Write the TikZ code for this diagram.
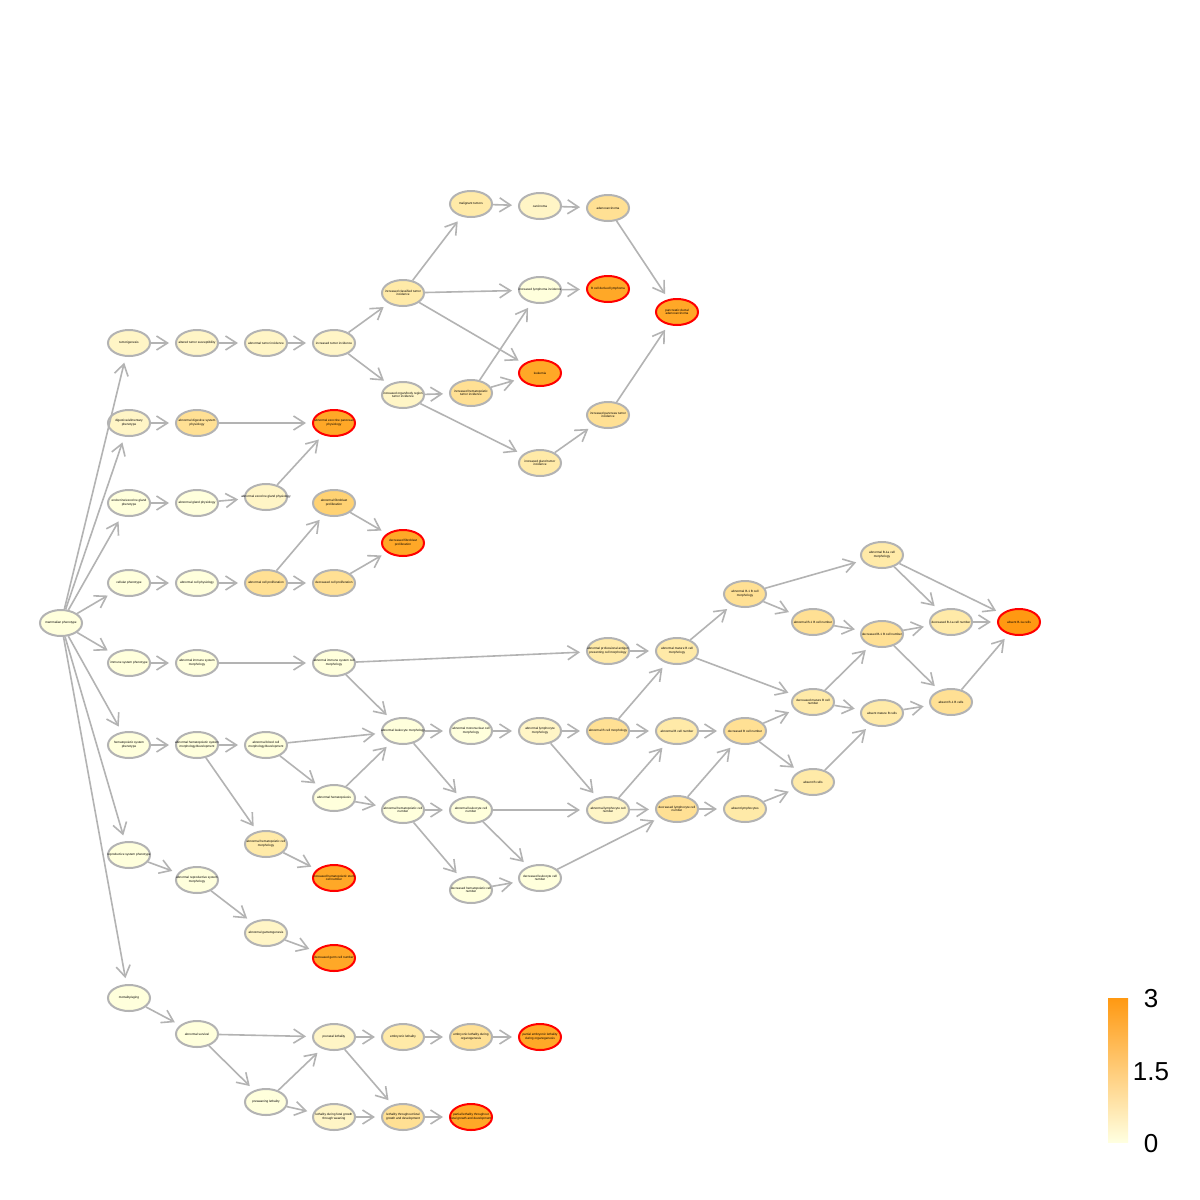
\documentclass[tikz,border=0pt]{standalone}
\usepackage{fontspec}
\setmainfont{Liberation Sans}
\usetikzlibrary{shapes.geometric,arrows.meta}
\definecolor{c0}{HTML}{FFFFDC}
\definecolor{c1}{HTML}{FFF5C6}
\definecolor{c2}{HTML}{FFEAA8}
\definecolor{c3}{HTML}{FFE094}
\definecolor{c4}{HTML}{FFD273}
\definecolor{c5}{HTML}{FFA827}
\definecolor{c6}{HTML}{FF9912}
\definecolor{cmid}{HTML}{FFDB8C}
\definecolor{cbot}{HTML}{FFFFE0}
\definecolor{eg}{RGB}{179,179,179}
\definecolor{hotred}{RGB}{255,0,0}
\begin{document}
\begin{tikzpicture}[x=0.5pt,y=-0.5pt,
 lbl/.style={font=\fontsize{1.55}{1.85}\selectfont, align=center, inner sep=0pt, text=black},
 tn/.style={ellipse, draw=eg, line width=1pt, minimum width=21pt, minimum height=13pt, inner sep=0pt, label={[lbl]center:{#1}}},
 hot/.style={draw=hotred, line width=1pt},
 ed/.style={draw=eg, line width=0.8pt, -{Straight Barb[length=5.5pt,width=7pt,line width=0.8pt]}, shorten >=3pt},
 legtxt/.style={font=\fontsize{13}{15}\selectfont, inner sep=0pt}]
\fill[white] (0,0) rectangle (1200,1200);
\useasboundingbox (0,0) rectangle (1200,1200);

% root
\node[tn={mammalian phenotype}, fill=c0] (m) at (61,623) {};
% column 2
\node[tn={tumorigenesis}, fill=c1] (tum) at (129,343) {};
\node[tn={digestive/alimentary\\phenotype}, fill=c1] (dig) at (129,423) {};
\node[tn={endocrine/exocrine gland\\phenotype}, fill=c0] (endo) at (129,503) {};
\node[tn={cellular phenotype}, fill=c0] (cell) at (129,583) {};
\node[tn={immune system phenotype}, fill=c0] (imm) at (129,663) {};
\node[tn={hematopoietic system\\phenotype}, fill=c0] (hem) at (129,745) {};
\node[tn={reproductive system phenotype}, fill=c0] (repro) at (129,855) {};
\node[tn={mortality/aging}, fill=c0] (mort) at (129,998) {};
% column 3
\node[tn={altered tumor susceptibility}, fill=c1] (alt) at (197,343) {};
\node[tn={abnormal digestive system\\physiology}, fill=c3] (adsp) at (197,423) {};
\node[tn={abnormal gland physiology}, fill=c0] (agp) at (197,503) {};
\node[tn={abnormal cell physiology}, fill=c0] (acp) at (197,583) {};
\node[tn={abnormal immune system\\morphology}, fill=c0] (aism) at (197,663) {};
\node[tn={abnormal hematopoietic system\\morphology/development}, fill=c0] (ahsmd) at (197,745) {};
\node[tn={abnormal reproductive system\\morphology}, fill=c0] (arsm) at (197,880) {};
\node[tn={abnormal survival}, fill=c0] (asurv) at (197,1034) {};
% column 4
\node[tn={abnormal tumor incidence}, fill=c1] (ati) at (266,343) {};
\node[tn={abnormal exocrine gland physiology}, fill=c1] (aegp) at (266,497) {};
\node[tn={abnormal cell proliferation}, fill=c3] (acprol) at (266,583) {};
\node[tn={abnormal blood cell\\morphology/development}, fill=c0] (abcmd) at (266,745) {};
\node[tn={abnormal hematopoietic cell\\morphology}, fill=c2] (ahcm) at (266,844) {};
\node[tn={abnormal gametogenesis}, fill=c1] (agam) at (266,933) {};
\node[tn={preweaning lethality}, fill=c0] (prew) at (266,1102) {};
% column 5
\node[tn={increased tumor incidence}, fill=c1] (iti) at (334,343) {};
\node[tn={abnormal exocrine pancreas\\physiology}, fill=c5, hot] (aepp) at (334,423) {};
\node[tn={abnormal fibroblast\\proliferation}, fill=c4] (afp) at (334,503) {};
\node[tn={decreased cell proliferation}, fill=c3] (dcp) at (334,583) {};
\node[tn={abnormal immune system cell\\morphology}, fill=c0] (aiscm) at (334,663) {};
\node[tn={abnormal hematopoiesis}, fill=c0] (ahema) at (334,798) {};
\node[tn={increased hematopoietic stem\\cell number}, fill=c5, hot] (ihscn) at (334,878) {};
\node[tn={decreased germ cell number}, fill=c5, hot] (gamred) at (334,958) {};
\node[tn={prenatal lethality}, fill=c1] (prenat) at (334,1037) {};
\node[tn={lethality during fetal growth\\through weaning}, fill=c1] (lfgw) at (334,1117) {};
% column 6
\node[tn={increased classified tumor\\incidence}, fill=c2] (icti) at (403,293) {};
\node[tn={increased organ/body region\\tumor incidence}, fill=c1] (iobrti) at (403,395) {};
\node[tn={decreased fibroblast\\proliferation}, fill=c5, hot] (dfp) at (403,543) {};
\node[tn={abnormal leukocyte morphology}, fill=c0] (alm) at (403,731) {};
\node[tn={abnormal hematopoietic cell\\number}, fill=c0] (ahcn) at (403,810) {};
\node[tn={embryonic lethality}, fill=c2] (embl) at (403,1037) {};
\node[tn={lethality throughout fetal\\growth and development}, fill=c3] (ltfgd) at (403,1117) {};
% column 7
\node[tn={malignant tumors}, fill=c2] (malig) at (471,204) {};
\node[tn={increased hematopoietic\\tumor incidence}, fill=c3] (ihti) at (471,393) {};
\node[tn={abnormal mononuclear cell\\morphology}, fill=c0] (amcm) at (471,731) {};
\node[tn={abnormal leukocyte cell\\number}, fill=c0] (alcn) at (471,810) {};
\node[tn={decreased hematopoietic cell\\number}, fill=c0] (dhcn) at (471,890) {};
\node[tn={embryonic lethality during\\organogenesis}, fill=c3] (elo) at (471,1037) {};
\node[tn={partial lethality throughout\\fetal growth and development}, fill=c5, hot] (pltfgd) at (471,1117) {};
% column 8
\node[tn={carcinoma}, fill=c1] (carc) at (540,206) {};
\node[tn={increased lymphoma incidence}, fill=c0] (ili) at (540,290) {};
\node[tn={leukemia}, fill=c5, hot] (leuk) at (540,373) {};
\node[tn={increased gland tumor\\incidence}, fill=c2] (igti) at (540,463) {};
\node[tn={abnormal lymphocyte\\morphology}, fill=c1] (alym) at (540,731) {};
\node[tn={decreased leukocyte cell\\number}, fill=c0] (dlcn) at (540,878) {};
\node[tn={partial embryonic lethality\\during organogenesis}, fill=c5, hot] (pelo) at (540,1037) {};
% column 9
\node[tn={adenocarcinoma}, fill=c3] (adeno) at (608,208) {};
\node[tn={B cell derived lymphoma}, fill=c5, hot] (bcdl) at (608,289) {};
\node[tn={increased pancreas tumor\\incidence}, fill=c3] (ipti) at (608,415) {};
\node[tn={abnormal professional antigen\\presenting cell morphology}, fill=c2] (apapc) at (608,651) {};
\node[tn={abnormal B cell morphology}, fill=c3] (abcm) at (608,731) {};
\node[tn={abnormal lymphocyte cell\\number}, fill=c1] (alycn) at (608,810) {};
% column 10
\node[tn={pancreatic ductal\\adenocarcinoma}, fill=c5, hot] (pdac) at (677,312) {};
\node[tn={abnormal mature B cell\\morphology}, fill=c2] (ambcm) at (677,651) {};
\node[tn={abnormal B cell number}, fill=c2] (abcn) at (677,731) {};
\node[tn={decreased lymphocyte cell\\number}, fill=c3] (dlycn) at (677,809) {};
% column 11
\node[tn={abnormal B-1 B cell\\morphology}, fill=c3] (ab1m) at (745,594) {};
\node[tn={decreased B cell number}, fill=c3] (dbcn) at (745,731) {};
\node[tn={absent lymphocytes}, fill=c2] (alyms) at (745,809) {};
% column 12
\node[tn={abnormal B-1 B cell number}, fill=c3] (ab1n) at (813,622) {};
\node[tn={decreased mature B cell\\number}, fill=c2] (dmbcn) at (813,702) {};
\node[tn={absent B cells}, fill=c2] (absb) at (813,782) {};
% column 13
\node[tn={abnormal B-1a cell\\morphology}, fill=c2] (ab1am) at (882,555) {};
\node[tn={decreased B-1 B cell number}, fill=c3] (db1n) at (882,634) {};
\node[tn={absent mature B cells}, fill=c2] (amb) at (882,713) {};
% column 14
\node[tn={decreased B-1a cell number}, fill=c2] (db1an) at (951,622) {};
\node[tn={absent B-1 B cells}, fill=c3] (ab1b) at (951,702) {};
% column 15
\node[tn={absent B-1a cells}, fill=c6, hot] (ab1a) at (1019,622) {};

\foreach \a/\b in {m/tum,m/dig,m/endo,m/cell,m/imm,m/hem,m/repro,m/mort,
 tum/alt,alt/ati,ati/iti,iti/icti,iti/iobrti,
 dig/adsp,adsp/aepp,endo/agp,agp/aegp,aegp/aepp,
 cell/acp,acp/acprol,acprol/afp,acprol/dcp,afp/dfp,dcp/dfp,
 imm/aism,aism/aiscm,aiscm/apapc,aiscm/alm,
 hem/ahsmd,ahsmd/abcmd,ahsmd/ahcm,ahcm/ihscn,abcmd/alm,abcmd/ahema,ahema/alm,ahema/ahcn,
 repro/arsm,arsm/agam,agam/gamred,
 mort/asurv,asurv/prenat,asurv/prew,prew/prenat,prew/lfgw,prenat/embl,prenat/ltfgd,
 embl/elo,elo/pelo,lfgw/ltfgd,ltfgd/pltfgd,
 icti/malig,icti/ili,icti/leuk,malig/carc,carc/adeno,adeno/pdac,ili/bcdl,
 iobrti/ihti,iobrti/igti,ihti/ili,ihti/leuk,igti/ipti,ipti/pdac,
 alm/amcm,alm/alcn,amcm/alym,alym/abcm,alym/alycn,ahcn/alcn,ahcn/dhcn,
 alcn/alycn,alcn/dlcn,dhcn/dlcn,dlcn/dlycn,
 apapc/ambcm,abcm/ambcm,abcm/abcn,alycn/abcn,alycn/dlycn,abcn/dbcn,dlycn/dbcn,dlycn/alyms,
 dbcn/dmbcn,dbcn/absb,alyms/absb,
 ambcm/ab1m,ambcm/dmbcn,ab1m/ab1am,ab1m/ab1n,ab1n/db1n,dmbcn/db1n,dmbcn/amb,absb/amb,
 ab1am/db1an,ab1am/ab1a,db1n/db1an,db1n/ab1b,amb/ab1b,db1an/ab1a,ab1b/ab1a}
 \draw[ed] (\a) -- (\b);

% legend
\shade[top color=c6, middle color=cmid, bottom color=cbot] (1108,998) rectangle (1128,1142);
\node[legtxt] (l3) at (1151,999) {3};
\node[legtxt] (l15) at (1151,1072) {1.5};
\node[legtxt] (l0) at (1151,1144) {0};
\end{tikzpicture}
\end{document}
